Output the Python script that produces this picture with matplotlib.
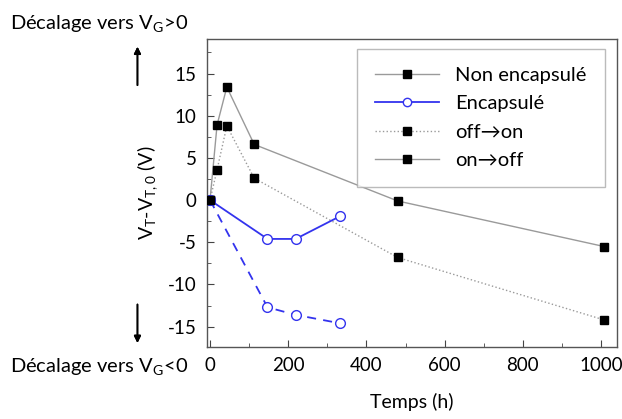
import matplotlib
matplotlib.use('Agg')
import matplotlib.pyplot as plt
from matplotlib.lines import Line2D
from matplotlib.ticker import MultipleLocator

plt.rcParams['font.family'] = ['Lato', 'DejaVu Sans']
plt.rcParams['mathtext.fontset'] = 'custom'
plt.rcParams['mathtext.rm'] = 'Lato'

# non encapsule, on->off (solid grey) and off->on (dotted grey)
t_non = [0, 18, 43, 113, 480, 1008]
v_non_onoff = [0, 8.9, 13.4, 6.6, -0.1, -5.5]
v_non_offon = [0, 3.6, 8.8, 2.6, -6.8, -14.2]

# encapsule, on->off (blue solid) and off->on (blue dashed)
t_enc = [0, 147, 219, 333]
v_enc_onoff = [0, -4.6, -4.6, -1.9]
v_enc_offon = [0, -12.7, -13.6, -14.6]

legend_labels = ['Non encapsulé', 'Encapsulé', 'off\u2192on', 'on\u2192off']

fig = plt.figure(figsize=(6.22, 4.19), dpi=100)
ax = fig.add_axes([0.332, 0.172, 0.660, 0.735])

grey = '#9a9a9a'
blue = '#3333ee'
ax.plot(t_non, v_non_onoff, '-', color=grey, lw=1.0, marker='s', ms=6,
        mfc='black', mec='black')
ax.plot(t_non, v_non_offon, ':', color=grey, lw=1.0, marker='s', ms=6,
        mfc='black', mec='black')
ax.plot(t_enc, v_enc_onoff, '-', color=blue, lw=1.3, marker='o', ms=7,
        mfc='white', mec=blue, mew=1.0)
ax.plot(t_enc, v_enc_offon, '--', color=blue, lw=1.3, marker='o', ms=7,
        mfc='white', mec=blue, mew=1.0, dashes=(5, 4))
# redraw origin square on top
ax.plot(t_non[:1], v_non_onoff[:1], 's', ms=6, mfc='black', mec='black', zorder=5)

ax.set_xlim(-9, 1041)
ax.set_ylim(-17.4, 19.1)
ax.xaxis.set_major_locator(MultipleLocator(200))
ax.xaxis.set_minor_locator(MultipleLocator(100))
ax.yaxis.set_major_locator(MultipleLocator(5))
ax.yaxis.set_minor_locator(MultipleLocator(2.5))
ax.tick_params(which='both', direction='in', top=False, right=False,
               labelsize=13.5, color='#444444')
ax.tick_params(which='major', length=5)
ax.tick_params(which='minor', length=3)
ax.tick_params(axis='y', pad=7)
ax.tick_params(axis='x', pad=7)
ax.set_xticks([0, 200, 400, 600, 800, 1000])
ax.set_xticklabels(['0', '200', '400', '600', '800', '1000'])
ax.set_yticks([-15, -10, -5, 0, 5, 10, 15])
ax.set_yticklabels(['-15', '-10', '-5', '0', '5', '10', '15'])
for s in ax.spines.values():
    s.set_color('#555555')
    s.set_linewidth(1.0)

ax.set_xlabel('Temps (h)', fontsize=14, labelpad=14)
ax.set_ylabel(r'$\mathregular{V_T}$-$\mathregular{V_{T,0}}$ (V)', fontsize=14, labelpad=6)

handles = [
    Line2D([], [], color=grey, lw=1.0, ls='-', marker='s', ms=6, mfc='black', mec='black'),
    Line2D([], [], color=blue, lw=1.3, ls='-', marker='o', ms=6, mfc='white', mec=blue),
    Line2D([], [], color=grey, lw=1.0, ls=':', marker='s', ms=6, mfc='black', mec='black'),
    Line2D([], [], color=grey, lw=1.0, ls='-', marker='s', ms=6, mfc='black', mec='black'),
]
leg = ax.legend(handles, legend_labels, loc='upper right', fontsize=14.5,
                frameon=True, fancybox=False, edgecolor='#aaaaaa',
                handlelength=3.2, borderpad=0.9, labelspacing=0.55,
                bbox_to_anchor=(0.995, 1.0))
leg.get_frame().set_linewidth(1.0)

fig.text(0.016, 0.945, r'Décalage vers $\mathregular{V_G}$>0', fontsize=14.5, ha='left', va='center')
fig.text(0.016, 0.125, r'Décalage vers $\mathregular{V_G}$<0', fontsize=14.5, ha='left', va='center')
fig.add_artist(plt.annotate('', xy=(0.221, 0.895), xytext=(0.221, 0.79),
                            xycoords='figure fraction',
                            arrowprops=dict(arrowstyle='-|>', color='black', lw=1.2)))
fig.add_artist(plt.annotate('', xy=(0.221, 0.175), xytext=(0.221, 0.28),
                            xycoords='figure fraction',
                            arrowprops=dict(arrowstyle='-|>', color='black', lw=1.2)))

fig.savefig('out.png', dpi=100)
